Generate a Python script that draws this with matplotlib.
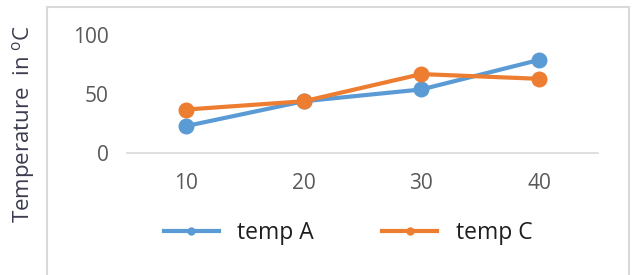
import matplotlib
matplotlib.use("Agg")
import matplotlib.pyplot as plt
from matplotlib.lines import Line2D
from matplotlib.patches import Rectangle

plt.rcParams['font.family'] = ['Open Sans', 'DejaVu Sans']
plt.rcParams['mathtext.fontset'] = 'custom'
plt.rcParams['mathtext.rm'] = 'Open Sans'

# data
categories = ['10', '20', '30', '40']
temp_a = [23, 44, 54, 79]
temp_c = [37, 44, 67, 63]
y_ticks = [0, 50, 100]

blue = '#5B9BD5'
orange = '#ED7D31'

fig = plt.figure(figsize=(6.32, 2.75), dpi=100)

# outer frame (open at bottom, like a cropped chart area)
fig.patches.append(Rectangle((47 / 632, -0.1), 582 / 632, 1.1 - 7 / 275,
                             transform=fig.transFigure, fill=False,
                             edgecolor='#d9d9d9', linewidth=1.5))

ax = fig.add_axes([127 / 632, 0.4425, 471 / 632, 0.43])
x = list(range(len(categories)))
ax.plot(x, temp_a, color=blue, linewidth=3, marker='o', markersize=10.5, zorder=3)
ax.plot(x, temp_c, color=orange, linewidth=3, marker='o', markersize=10.5, zorder=3)

ax.set_xlim(-0.5, 3.5)
ax.set_ylim(0, 100)
ax.set_xticks(x)
ax.set_xticklabels(categories)
ax.set_yticks(y_ticks)
ax.tick_params(axis='both', length=0, labelsize=15, labelcolor='#595959')
ax.tick_params(axis='y', pad=13)
ax.tick_params(axis='x', pad=14)
for s in ['top', 'right', 'left']:
    ax.spines[s].set_visible(False)
ax.spines['bottom'].set_color('#d9d9d9')
ax.spines['bottom'].set_linewidth(1.2)

fig.text(24 / 632, 0.55, 'Temperature  in $^{\\mathrm{o}}$C', rotation=90,
         ha='center', va='center', fontsize=16, color='#3c3c50')

handles = [Line2D([], [], color=blue, linewidth=3, marker='o', markersize=5),
           Line2D([], [], color=orange, linewidth=3, marker='o', markersize=5)]
fig.legend(handles, ['temp A', 'temp C'], loc='center', ncol=2,
           bbox_to_anchor=(348 / 632, 1 - 233 / 275), frameon=False,
           fontsize=16.5, handlelength=2.4, handletextpad=0.8, columnspacing=3.0,
           labelcolor='#1f1f1f')

fig.savefig('out.png', dpi=100)
